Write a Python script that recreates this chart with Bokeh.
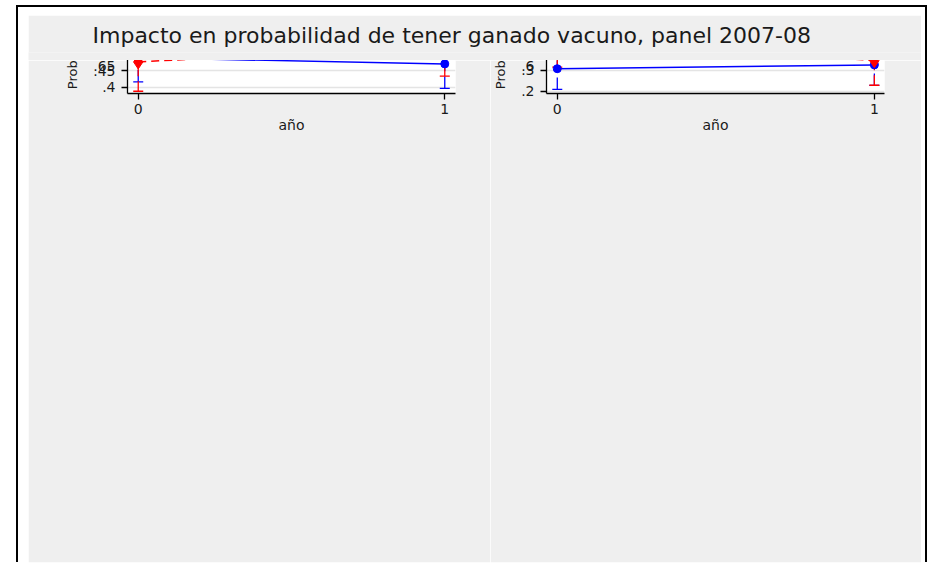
from bokeh.plotting import figure
from bokeh.layouts import column, row
from bokeh.models import Legend, FixedTicker, Range1d
from bokeh.embed import file_html
from bokeh.resources import INLINE

# ---------------- data ----------------
main_title = "Impacto en probabilidad de tener ganado vacuno, panel 2007-08"
panel_titles = ["JH Varón", "JH Mujer"]
series_names = ["Control", "Juntos"]
years = [0, 1]
x_label = "año"
y_label = "Probabilidad"

# JH Varón
varon_control = [0.491, 0.472]
varon_control_lo = [0.416, 0.396]
varon_control_hi = [0.566, 0.550]
varon_juntos = [0.478, 0.529]
varon_juntos_lo = [0.387, 0.434]
varon_juntos_hi = [0.568, 0.623]

# JH Mujer
mujer_control = [0.307, 0.325]
mujer_control_lo = [0.209, 0.228]
mujer_control_hi = [0.407, 0.424]
mujer_juntos = [0.456, 0.345]
mujer_juntos_lo = [0.314, 0.229]
mujer_juntos_hi = [0.594, 0.463]

varon_yticks = [0.4, 0.45, 0.5, 0.55, 0.6, 0.65]
varon_ytick_labels = [".4", ".45", ".5", ".55", ".6", ".65"]
mujer_yticks = [0.2, 0.3, 0.4, 0.5, 0.6]
mujer_ytick_labels = [".2", ".3", ".4", ".5", ".6"]
x_ticks = [0, 1]

# ---------------- style ----------------
FONT = "DejaVu Sans"
TXT = "#1a1a1a"
BG = "#efefef"
BLUE = "#0000ff"
RED = "#ff0000"


def make_panel(title, ctrl, ctrl_lo, ctrl_hi, junt, junt_lo, junt_hi,
               yticks, ylabels, yrange, xrange, width, bl, br, title_offset):
    p = figure(width=width, height=502, x_range=Range1d(*xrange), y_range=Range1d(*yrange),
               toolbar_location=None, output_backend="svg", title=title,
               min_border_left=bl, min_border_right=br, min_border_top=33, min_border_bottom=104,
               background_fill_color="white", border_fill_color=BG, outline_line_color=None)
    p.title.text_font = FONT
    p.title.text_font_size = "18px"
    p.title.text_font_style = "normal"
    p.title.text_color = TXT
    p.title.align = "left"
    p.title.offset = title_offset
    p.title.standoff = 5

    # axes
    p.yaxis.ticker = FixedTicker(ticks=yticks)
    p.yaxis.major_label_overrides = {t: l for t, l in zip(yticks, ylabels)}
    p.xaxis.ticker = FixedTicker(ticks=x_ticks)
    for ax in (p.xaxis[0], p.yaxis[0]):
        ax.axis_line_color = "black"
        ax.axis_line_width = 1.3
        ax.major_tick_line_color = "black"
        ax.major_tick_line_width = 1.3
        ax.major_tick_out = 6
        ax.major_tick_in = 0
        ax.minor_tick_line_color = None
        ax.major_label_text_font = FONT
        ax.major_label_text_font_size = "14px"
        ax.major_label_text_color = TXT
        ax.axis_label_text_font = FONT
        ax.axis_label_text_font_style = "normal"
        ax.axis_label_text_color = TXT
    p.xaxis.axis_label = x_label
    p.yaxis.axis_label = y_label
    p.xaxis.axis_label_text_font_size = "14px"
    p.yaxis.axis_label_text_font_size = "13px"
    p.xaxis.axis_label_standoff = 0
    p.xaxis.major_label_standoff = 4
    p.yaxis.major_label_standoff = 6
    p.yaxis.axis_label_standoff = 10
    p.xgrid.grid_line_color = None
    p.ygrid.grid_line_color = "#e4e4e4"
    p.ygrid.grid_line_width = 1.3

    legend = Legend(orientation="horizontal", location="center",
                    border_line_color="black", border_line_width=1.2,
                    background_fill_color="white", background_fill_alpha=1.0,
                    label_text_font=FONT, label_text_font_size="16px", label_text_color=TXT,
                    glyph_width=66, label_standoff=13, spacing=31, padding=5, margin=2)
    p.add_layout(legend, "below")

    # confidence intervals: dashed stems with short horizontal caps
    for lo, hi, col, dash in ((ctrl_lo, ctrl_hi, BLUE, "12 5"), (junt_lo, junt_hi, RED, "10 5")):
        p.segment(x0=years, y0=lo, x1=years, y1=hi, line_color=col, line_width=1.3,
                  line_dash=dash)
        p.scatter(years, lo, marker="dash", size=10, line_color=col, line_width=1.3)
        p.scatter(years, hi, marker="dash", size=10, line_color=col, line_width=1.3)

    # means
    p.line(years, ctrl, line_color=BLUE, line_width=1.5, legend_label=series_names[0])
    p.scatter(years, ctrl, marker="circle", size=8, color=BLUE, legend_label=series_names[0])
    p.line(years, junt, line_color=RED, line_width=1.5, line_dash="8 5",
           legend_label=series_names[1])
    p.scatter(years, junt, marker="diamond", size=14, color=RED, legend_label=series_names[1])
    return p


p1 = make_panel(panel_titles[0], varon_control, varon_control_lo, varon_control_hi,
                varon_juntos, varon_juntos_lo, varon_juntos_hi,
                varon_yticks, varon_ytick_labels, (0.380, 0.6566), (-0.035, 1.035),
                462, 99, 35, -7)
p2 = make_panel(panel_titles[1], mujer_control, mujer_control_lo, mujer_control_hi,
                mujer_juntos, mujer_juntos_lo, mujer_juntos_hi,
                mujer_yticks, mujer_ytick_labels, (0.190, 0.610), (-0.034, 1.032),
                431, 56, 37, -5)

pt = figure(width=893, height=45, toolbar_location=None, output_backend="svg",
            x_axis_location=None, y_axis_location=None, min_border=0, min_border_top=16,
            outline_line_color=None, background_fill_color=BG, border_fill_color=BG)
pt.xgrid.grid_line_color = None
pt.ygrid.grid_line_color = None
pt.title.text = main_title
pt.title.text_font = FONT
pt.title.text_font_size = "22px"
pt.title.text_font_style = "normal"
pt.title.text_color = TXT
pt.title.align = "left"
pt.title.offset = 64

layout = column(pt, row(p1, p2),
                styles={"border-left": "2px solid black", "border-top": "2px solid black",
                        "border-right": "2px solid black", "padding": "8px 4px 0px 10px",
                        "margin-left": "16px", "margin-top": "5px",
                        "background-color": "white"})

open("out.html", "w").write(file_html(layout, INLINE))
